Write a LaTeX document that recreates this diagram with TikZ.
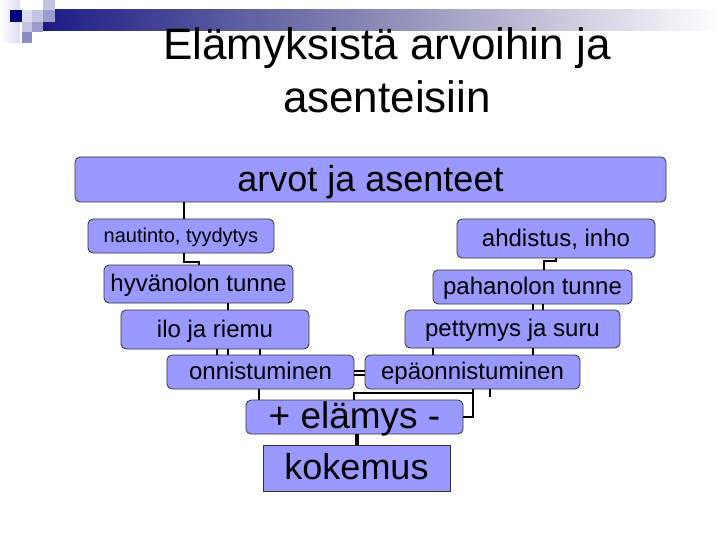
\documentclass[tikz,border=0pt]{standalone}
\usepackage{fontspec}
\setmainfont{Liberation Sans}
\definecolor{boxfill}{RGB}{153,153,255}
\definecolor{barnavy}{RGB}{28,28,132}
\definecolor{barmid}{RGB}{140,140,182}
\definecolor{sqnavy}{RGB}{0,0,128}
\definecolor{sqpale}{RGB}{220,220,240}
\definecolor{sqlight}{RGB}{196,196,228}
\definecolor{sqmid}{RGB}{156,156,204}
\definecolor{sqdark}{RGB}{140,140,196}

\begin{document}
\begin{tikzpicture}[x=1pt,y=-1pt,
    box/.style={draw=black!80,line width=0.8pt,fill=boxfill,rounded corners=5pt,inner sep=0pt},
    fs/.code={\tikzset{font=\fontsize{#1}{#1}\selectfont}%
        \pgfmathsetlengthmacro\fsheight{0.72*#1}\pgfmathsetlengthmacro\fsdepth{0.08*#1}%
        \tikzset{text height=\fsheight,text depth=\fsdepth}},
    conn/.style={line width=1.5pt},
    thickconn/.style={line width=2.5pt}]
    \useasboundingbox (0,0) rectangle (720,540);
    % corner squares and bar
    \shade[left color=barnavy,right color=white,middle color=barmid] (43,10) rectangle (720,31);
    \shade[left color=white,right color=sqpale] (0,0) rectangle (20,43);
    \fill[sqnavy] (10,10) rectangle (22,22);
    \fill[sqpale] (22,10) rectangle (32,22);
    \fill[sqlight] (32,10) rectangle (43,22);
    \fill[sqlight] (43,0) rectangle (55,10);
    \fill[sqmid] (43,10) rectangle (55,22);
    \fill[sqlight] (22,22) rectangle (32,32);
    \fill[sqmid] (32,22) rectangle (43,32);
    \fill[sqdark] (22,32) rectangle (32,43);
    % title
    \node[align=center,inner sep=0pt,font=\fontsize{44}{53}\selectfont](title)at(387, 70){Elämyksistä arvoihin ja\\asenteisiin};
    % boxes
    \node[box,fs=36,minimum width=591pt,minimum height=45pt](arvot)at(370.5, 179.5){arvot ja asenteet};
    \node[box,fs=20,minimum width=186pt,minimum height=34pt](nautinto)at(181, 236){nautinto, tyydytys};
    \node[box,fs=24,minimum width=198pt,minimum height=39pt](ahdistus)at(556, 238.5){ahdistus, inho};
    \node[box,fs=24,minimum width=189pt,minimum height=38pt](hyva)at(198.5, 284){hyvänolon tunne};
    \node[box,fs=24,minimum width=199pt,minimum height=34pt](paha)at(532.5, 287){pahanolon tunne};
    \node[box,fs=24,minimum width=188pt,minimum height=39pt](ilo)at(215, 329.5){ilo ja riemu};
    \node[box,fs=24,minimum width=215pt,minimum height=38pt](petty)at(512.5, 329){pettymys ja suru};
    \node[box,fs=24,minimum width=187pt,minimum height=34pt](onni)at(260.5, 372){onnistuminen};
    \node[box,fs=24,minimum width=215pt,minimum height=34pt](epaonni)at(472.5, 372){epäonnistuminen};
    \node[box,fs=37,minimum width=217pt,minimum height=34pt](elamys)at(354.5, 417){+ elämys -};
    \node[box,sharp corners,fs=36,minimum width=187pt,minimum height=46pt](kokemus)at(356.5, 468){kokemus};
    \coordinate (stub) at (490, 397);
    % connectors
    \draw[conn] (arvot.south -| 184,0) -- (nautinto.north -| 184,0);
    \draw[thickconn] (nautinto.south -| 184,0) -- (184,262) -- (199,262) -- (hyva.north -| 199,0);
    \draw[conn] (hyva.south -| 228,0) -- (ilo.north -| 228,0);
    \foreach \xx in {217,228,260}
        \draw[conn] (ilo.south -| \xx,0) -- (onni.north -| \xx,0);
    \draw[thickconn] (ahdistus.south -| 556,0) -- (556,261) -- (544,261) -- (paha.north -| 544,0);
    \foreach \xx in {533,543}
        \draw[conn] (paha.south -| \xx,0) -- (petty.north -| \xx,0);
    \foreach \xx in {433,533}
        \draw[conn] (petty.south -| \xx,0) -- (epaonni.north -| \xx,0);
    \draw[conn] (onni.east |- 0,371) -- (epaonni.west |- 0,371);
    \draw[conn] (onni.east |- 0,375) -- (epaonni.west |- 0,375);
    \draw[conn] (onni.south -| 259,0) -- (elamys.north -| 259,0);
    \draw[thickconn] (elamys.north -| 354,0) -- (354,393) -- (473,393);
    \draw[thickconn] (epaonni.south -| 473,0) -- (473,417) -- (elamys.east);
    \draw[conn] (epaonni.south -| 490,0) -- (stub);
    \draw[line width=3.5pt] (elamys.south -| 357,0) -- (kokemus.north -| 357,0);
\end{tikzpicture}
\end{document}
